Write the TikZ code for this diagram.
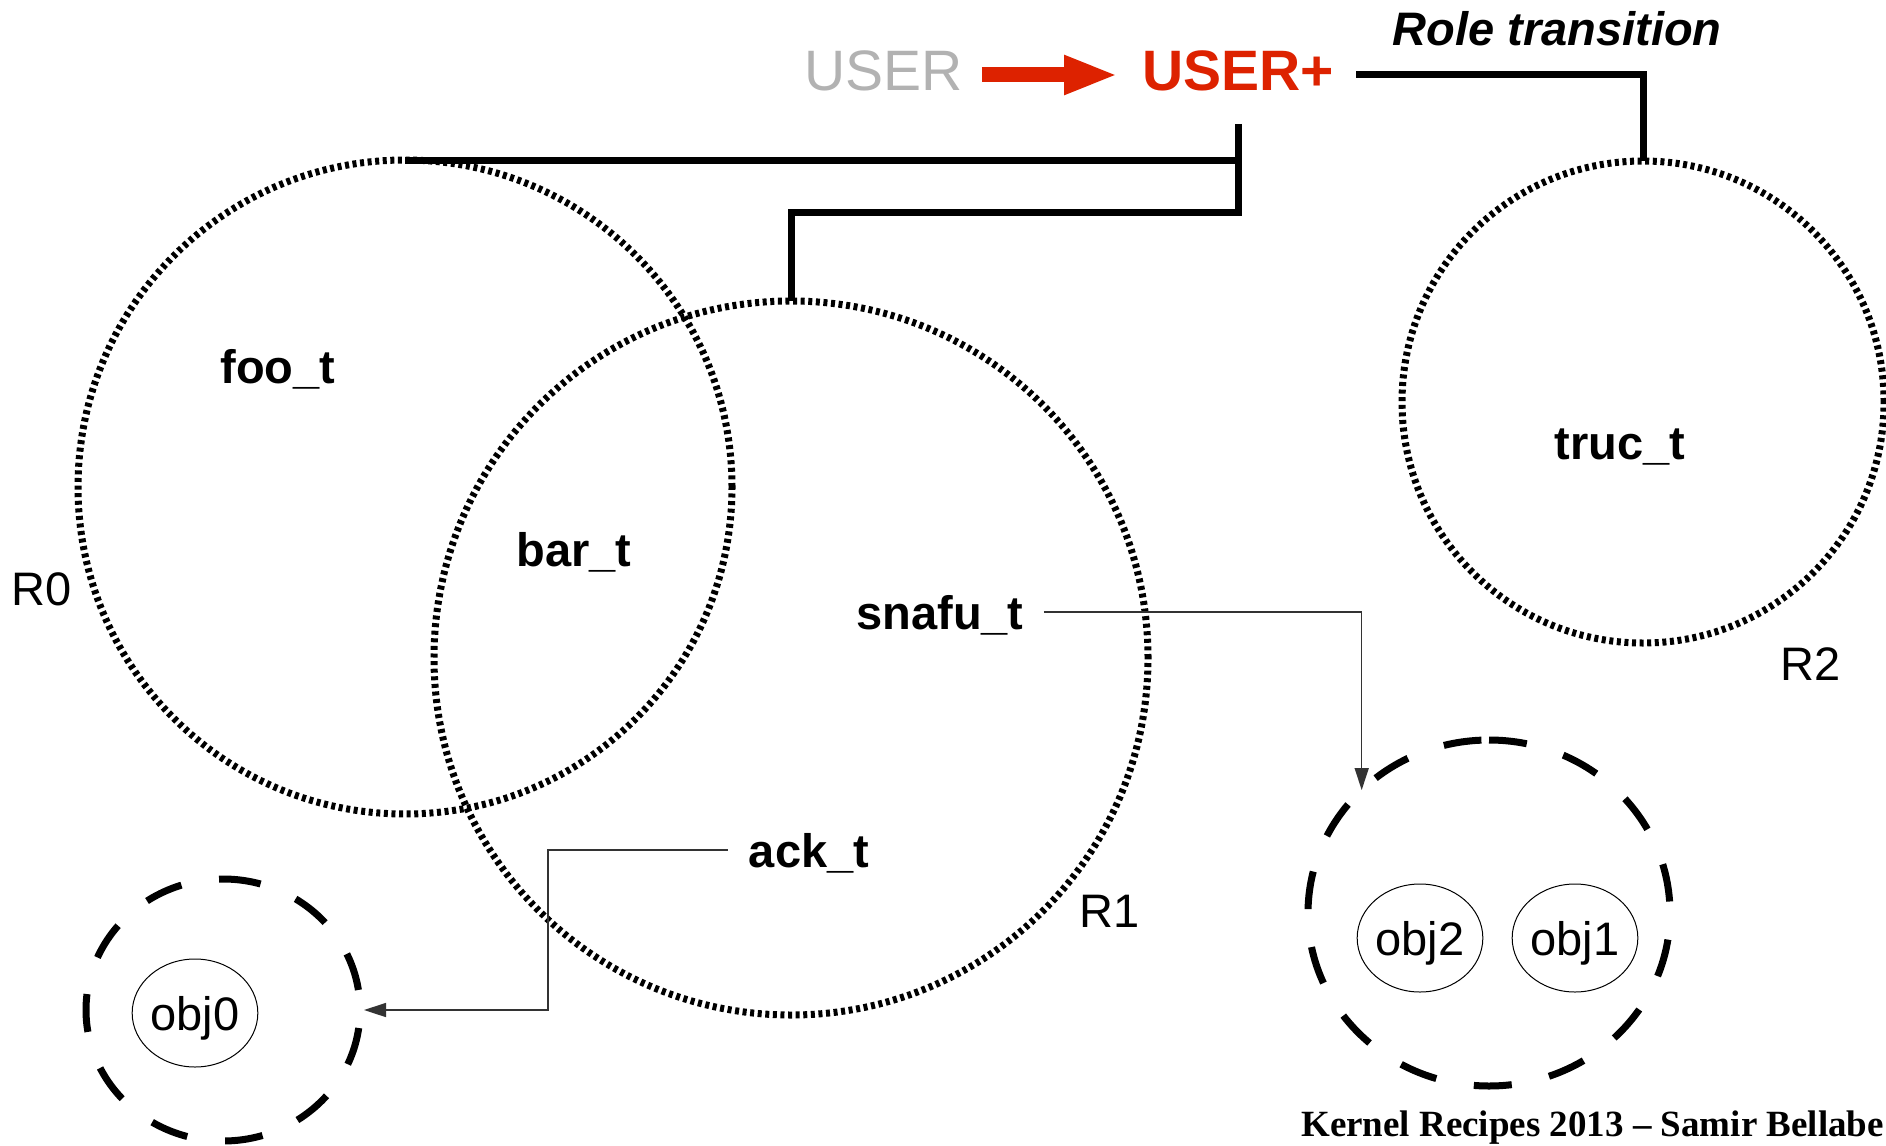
\documentclass[tikz,border=0pt]{standalone}
\usepackage{fontspec}
\setmainfont{Liberation Sans}
\newfontfamily\footfont{Liberation Serif}
\usetikzlibrary{arrows.meta,shapes.geometric,calc}
\definecolor{userred}{RGB}{221,34,0}
\definecolor{usergray}{RGB}{178,178,178}
\newcommand\bigtxt{\fontsize{47}{56}\selectfont}
\newcommand\usertxt{\fontsize{57}{68}\selectfont}
\newcommand\foottxt{\fontsize{37}{44}\selectfont}

\begin{document}
\begin{tikzpicture}[x=1pt,y=1pt,
  role/.style={circle, draw, line width=7pt, dash pattern=on 4pt off 3.6pt,
               inner sep=0pt, outer sep=0pt},
  holder/.style={ellipse, inner sep=0pt, outer sep=0pt},
  holderline/.style={line width=7pt, dash pattern=on 38pt off 38.2pt},
  obj/.style={ellipse, draw, line width=1pt, minimum width=118pt, minimum height=108pt,
              inner sep=0pt, text depth=0pt, font=\bigtxt},
  tname/.style={anchor=base, inner sep=0pt, font=\bigtxt\bfseries},
  rname/.style={anchor=base, inner sep=0pt, font=\bigtxt},
  link/.style={line width=7pt},
  ptr/.style={draw=black!80, line width=1.5pt, -{Triangle[length=22pt,width=14pt]}},
]
\fill[white] (0,0) rectangle (1886,-1145);
\useasboundingbox (0,0) rectangle (1886,-1145);

% role circles
\node[role, minimum size=654pt] (R0) at (405,-487) {};
\node[role, minimum size=714pt] (R1) at (791,-658) {};
\node[role, minimum size=482pt] (R2) at (1643,-402) {};

% type labels
\node[tname] (foo)   at (278,-383)  {foo\_t};
\node[tname] (bar)   at (574,-566)  {bar\_t};
\node[tname] (snafu) at (940,-629)  {snafu\_t};
\node[tname] (ack)   at (809,-867)  {ack\_t};
\node[tname] (truc)  at (1620,-459) {truc\_t};

% role names
\node[rname] (n0) at (42,-605)   {R0};
\node[rname] (n1) at (1110,-927) {R1};
\node[rname] (n2) at (1811,-680) {R2};

% object holders (dashed, drawn clockwise from the top)
\node[holder, minimum width=274pt, minimum height=262pt] (H0) at (223,-1010) {};
\draw[holderline] (H0.north) arc[start angle=90, end angle=-270, x radius=137pt, y radius=131pt];
\node[holder, minimum width=362pt, minimum height=346pt] (H1) at (1489,-913) {};
\draw[holderline] (H1.north) arc[start angle=90, end angle=-270, x radius=181pt, y radius=173pt];

% objects
\node[obj] (obj0) at (195,-1013) {obj0};
\node[obj] (obj2) at (1420,-938) {obj2};
\node[obj] (obj1) at (1575,-938) {obj1};

% user roles
\node[anchor=base west, inner sep=0pt, text=usergray, font=\usertxt] (user) at (804,-91) {USER};
\node[anchor=base west, inner sep=0pt, text=userred, font=\usertxt\bfseries] (userplus) at (1142,-91) {USER+};
\node[anchor=base, inner sep=0pt, font=\bigtxt\bfseries\itshape] (rt) at (1557,-46) {Role transition};
\draw[userred, line width=15pt, -{Triangle[length=54pt,width=36pt]}]
  ([xshift=19pt,yshift=16pt]user.base east) -- ([xshift=-24pt,yshift=16pt]userplus.base west);

% role transition links
\draw[link] ([xshift=22pt,yshift=16pt]userplus.base east) -| (R2.north);
\coordinate (hub) at ([yshift=-32pt]userplus.south);
\coordinate (knee) at ([yshift=-89pt]hub);
\draw[link] (hub) -- (knee) -| (R1.north);
\draw[link] (R0.north) -- (R0.north -| hub);

% type to object pointers
\draw[ptr] ([xshift=20pt,yshift=17pt]snafu.base east) -| (H1.136);
\draw[ptr] ([xshift=-21pt,yshift=17pt]ack.base west) -| ([xshift=188pt]H0.east) -- ([xshift=4pt]H0.east);

% credit line
\node[anchor=base west, inner sep=0pt, font=\footfont\bfseries\foottxt] (credit) at (1301,-1136)
  {Kernel Recipes 2013 – Samir Bellabe};
\end{tikzpicture}
\end{document}
